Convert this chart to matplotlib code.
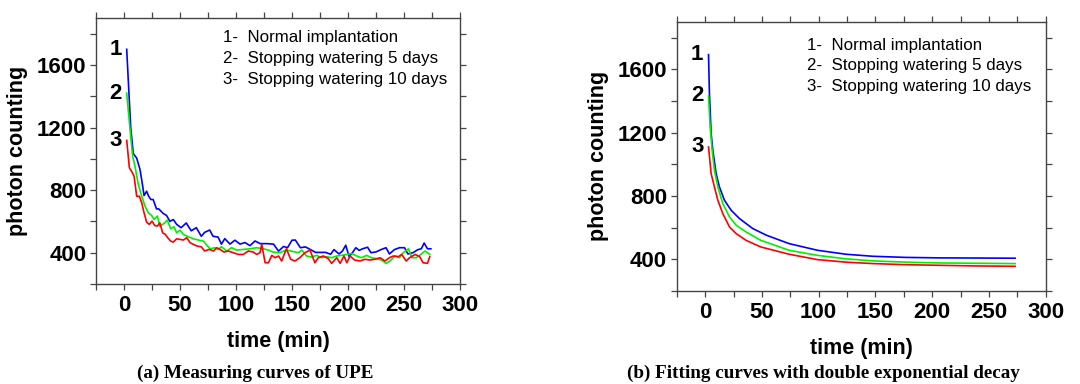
import numpy as np
import matplotlib.pyplot as plt
from matplotlib.ticker import MultipleLocator

plt.rcParams['font.family'] = ['Liberation Sans', 'DejaVu Sans']

# ---- measured UPE curves (panel a) ----
t_meas1 = [2.4, 6, 8.3, 11.3, 14.3, 16.7, 17.9, 20.2, 22, 24, 26, 29, 31, 35, 38, 41, 44, 47, 51,
           55.6, 60, 64.6, 69, 72, 76.5, 79.5, 84, 87, 90, 94.6, 99, 103.6, 108, 112.5, 117, 121.6,
           127.5, 133.5, 138, 142.5, 146, 150, 153, 157.5, 162, 166.5, 171, 180, 184.5, 187.5, 192,
           195, 198, 201, 204, 207, 210, 213, 217.5, 220.5, 225, 229.5, 234, 237, 241.5, 246, 250.5,
           253.5, 258, 262.5, 265.5, 268, 271, 274]
n_meas1 = [1700, 1197, 1033, 1005, 931, 825, 765, 793, 761, 740, 740, 680, 680, 651, 638, 600, 612,
           581, 560, 590, 540, 560, 505, 530, 545, 505, 500, 455, 490, 455, 480, 455, 465, 445, 475,
           458, 458, 455, 410, 440, 432, 480, 481, 432, 437, 420, 402, 402, 390, 420, 392, 410, 448,
           375, 400, 432, 415, 425, 435, 400, 405, 420, 432, 392, 420, 432, 432, 392, 400, 420, 425,
           462, 425, 425]

t_meas2 = [2.4, 5.4, 7.7, 9.8, 12.8, 15.8, 18.8, 21.7, 24.7, 26.8, 29.8, 32, 35.7, 38.7, 41.7, 44.6,
           47, 50, 53, 57.4, 62, 66.4, 71, 74, 77, 81, 84, 87, 91.7, 96, 100.6, 106.5, 112.5, 118.5,
           124.4, 129, 133, 139, 145, 151, 155.6, 158.6, 163, 167.6, 172, 176.5, 181, 185.4, 190, 194,
           199, 203, 207.7, 212, 216.7, 221, 225.6, 230, 234, 237.5, 242, 246, 249.4, 254, 257, 261,
           265, 268.8, 273]
n_meas2 = [1420, 1186, 1016, 952, 835, 761, 697, 655, 638, 612, 634, 570, 587, 608, 553, 566, 527,
           544, 517, 502, 489, 481, 474, 447, 425, 432, 421, 438, 411, 432, 417, 421, 425, 432, 425,
           417, 404, 400, 417, 408, 400, 417, 379, 372, 383, 368, 375, 368, 379, 383, 389, 396, 379,
           368, 383, 368, 362, 353, 332, 347, 379, 368, 400, 425, 368, 368, 389, 411, 389]

t_meas3 = [2.4, 4.8, 6.8, 9, 11.3, 13.7, 15.8, 17.9, 20.2, 22.6, 25, 27.4, 29.8, 32, 34.5, 36.9, 39,
           41.7, 44, 47, 50, 53, 56, 59, 62, 65.5, 69, 72, 76, 80, 82.7, 85.7, 89.3, 93, 97.6, 102,
           106.5, 111, 115.5, 118.5, 121.4, 123, 126, 129, 132, 135, 138, 140.8, 145, 148.8, 152.7,
           157, 161.6, 166, 170.5, 173.5, 178, 182.4, 185.4, 190, 193, 196.4, 199, 201.8, 206, 210.7,
           215, 219.6, 224, 228.6, 233, 237, 240.5, 245, 248, 252, 255, 260, 264, 267, 271, 273]
n_meas3 = [1118, 942, 920, 889, 761, 761, 719, 655, 595, 581, 602, 574, 570, 591, 527, 517, 496,
           474, 468, 489, 485, 481, 496, 464, 453, 442, 438, 411, 421, 411, 432, 421, 404, 411, 400,
           389, 389, 411, 404, 389, 400, 453, 336, 336, 383, 368, 379, 347, 425, 358, 347, 368, 400,
           417, 336, 368, 379, 362, 332, 368, 332, 379, 336, 379, 353, 347, 358, 353, 358, 368, 347,
           368, 379, 375, 389, 347, 368, 389, 375, 336, 332, 375]

# ---- double exponential fitting curves (panel b) ----
t_fit1 = [3, 3.8, 5.3, 6.8, 9.7, 12.6, 17, 23, 30.3, 42, 54, 74, 99, 124, 148, 177, 207, 240, 273]
n_fit1 = [1692, 1446, 1194, 1088, 941, 857, 773, 709, 657, 594, 552, 499, 457, 432, 419, 412, 409,
          408, 407]
t_fit2 = [3, 4.4, 6.2, 8.2, 11.2, 15.6, 21.5, 27.4, 36, 49, 74, 99, 124, 148, 177, 207, 240, 273]
n_fit2 = [1431, 1236, 1088, 962, 857, 751, 667, 615, 573, 520, 457, 425, 403, 390, 382, 377, 375,
          373]
t_fit3 = [3, 5.3, 8.2, 11.2, 15.6, 21.5, 27.4, 36, 49, 74, 99, 124, 148, 177, 207, 240, 273]
n_fit3 = [1109, 941, 857, 773, 688, 604, 562, 520, 478, 432, 398, 382, 373, 366, 362, 358, 356]

legend_lines = ['1-  Normal implantation', '2-  Stopping watering 5 days',
                '3-  Stopping watering 10 days']
curve_ids = ['1', '2', '3']
colors = ['#0000ff', '#00f000', '#ff0000']

fig = plt.figure(figsize=(10.8, 3.84), dpi=100)
ax1 = fig.add_axes([0.0889, 0.2604, 0.337, 0.6927])
ax2 = fig.add_axes([0.6266, 0.2422, 0.3417, 0.7013])


def style_axes(ax, xlab_y, ylab_x):
    ax.set_xlim(-25, 300)
    ax.set_ylim(200, 1900)
    ax.xaxis.set_major_locator(MultipleLocator(50))
    ax.xaxis.set_minor_locator(MultipleLocator(25))
    ax.yaxis.set_major_locator(MultipleLocator(400))
    ax.yaxis.set_minor_locator(MultipleLocator(200))
    ax.set_yticks([400, 800, 1200, 1600])
    for s in ax.spines.values():
        s.set_color('#444444')
        s.set_linewidth(1.0)
    ax.tick_params(which='both', direction='out', top=True, right=True, color='#444444',
                   labelsize=16, width=0.9, length=4)
    ax.tick_params(axis='x', pad=4)
    ax.tick_params(axis='y', pad=3)
    for lab in ax.get_xticklabels() + ax.get_yticklabels():
        lab.set_fontweight('bold')
    ax.set_xlabel('time (min)', fontsize=15.5, fontweight='bold')
    ax.set_ylabel('photon counting', fontsize=15.5, fontweight='bold')
    ax.xaxis.set_label_coords(0.5, xlab_y)
    ax.yaxis.set_label_coords(ylab_x, 0.5)


ax1.plot(t_meas1, n_meas1, color=colors[0], lw=1.2)
ax1.plot(t_meas2, n_meas2, color=colors[1], lw=1.2)
ax1.plot(t_meas3, n_meas3, color=colors[2], lw=1.2)
style_axes(ax1, -0.177, -0.187)
for lab, y in zip(curve_ids, [n_meas1[0], n_meas2[0], n_meas3[0]]):
    ax1.text(-2, y, lab, fontsize=16, fontweight='bold', ha='right', va='center')
for i, line in enumerate(legend_lines):
    ax1.text(0.348, 0.927 - i * 0.079, line, transform=ax1.transAxes, fontsize=12.2,
             va='center', ha='left')

ax2.plot(t_fit1, n_fit1, color=colors[0], lw=1.2)
ax2.plot(t_fit2, n_fit2, color=colors[1], lw=1.2)
ax2.plot(t_fit3, n_fit3, color=colors[2], lw=1.2)
style_axes(ax2, -0.175, -0.183)
for lab, y in zip(curve_ids, [n_fit1[0], n_fit2[0], n_fit3[0]]):
    ax2.text(-1.5, y, lab, fontsize=16, fontweight='bold', ha='right', va='center')
for i, line in enumerate(legend_lines):
    ax2.text(0.352, 0.913 - i * 0.076, line, transform=ax2.transAxes, fontsize=12.2,
             va='center', ha='left')

fig.text(255 / 1080, 1 - 373 / 384, '(a) Measuring curves of UPE', family='Liberation Serif',
         fontweight='bold', fontsize=13.8, ha='center', va='center')
fig.text(823 / 1080, 1 - 373 / 384, '(b) Fitting curves with double exponential decay',
         family='Liberation Serif', fontweight='bold', fontsize=13.8, ha='center', va='center')

fig.savefig('out.png', dpi=100)
